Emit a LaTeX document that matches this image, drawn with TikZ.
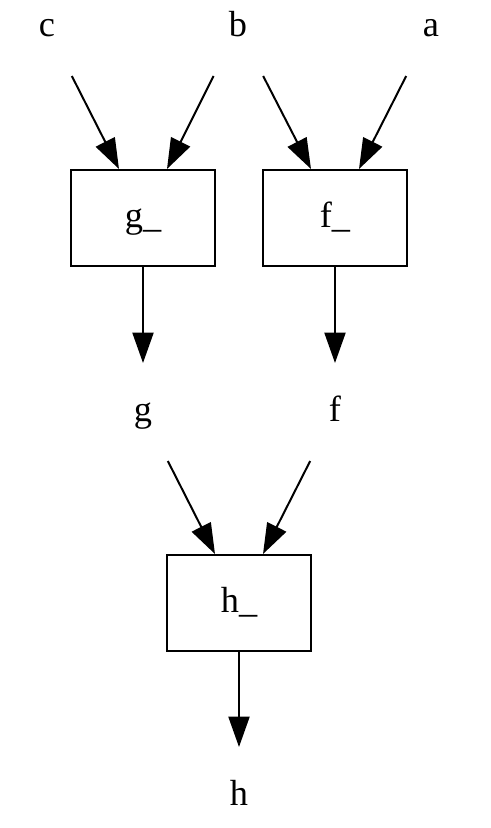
\documentclass[tikz,border=0pt]{standalone}
\usepackage{fontspec}
\setmainfont{Liberation Serif}
\usetikzlibrary{arrows.meta, positioning}

\begin{document}
\begin{tikzpicture}[x=0.03cm, y=-0.03cm, line width=1.7pt]
	\tikzstyle{var} = [rectangle, minimum width=4.32cm, minimum height=2.88cm, inner sep=0pt, font=\fontsize{31}{36}\selectfont, text height=20pt, text depth=3pt]
	\tikzstyle{op} = [var, draw=black]
	\tikzstyle{arrow} = [-{Triangle[length=26pt, width=18pt]}]

	\useasboundingbox (0, 0) rectangle (490, 828);

	\node[var] 	at (47, 27)		(c)	{c};
	\node[var] 	at (238, 27)	(b)	{b};
	\node[var] 	at (431, 27)	(a)	{a};

	\node[op] 	at (143, 218)	(gbox)	{g\_};
	\node[op] 	at (335, 218)	(fbox)	{f\_};

	\node[var] 	at (143, 412)	(g)	{g};
	\node[var] 	at (335, 412)	(f)	{f};

	\node[op] 	at (239, 603)	(hbox)	{h\_};
	\node[var] 	at (239, 796)	(h)	{h};

	\draw [arrow] 	(c) -- ([xshift=-0.72cm]gbox.north);
	\draw [arrow] 	(b) -- ([xshift=0.72cm]gbox.north);
	\draw [arrow] 	(b) -- ([xshift=-0.72cm]fbox.north);
	\draw [arrow] 	(a) -- ([xshift=0.72cm]fbox.north);

	\draw [arrow] 	(gbox) -- (g);
	\draw [arrow] 	(fbox) -- (f);

	\draw [arrow] 	(g) -- ([xshift=-0.72cm]hbox.north);
	\draw [arrow] 	(f) -- ([xshift=0.72cm]hbox.north);
	\draw [arrow] 	(hbox) -- (h);
\end{tikzpicture}
\end{document}
